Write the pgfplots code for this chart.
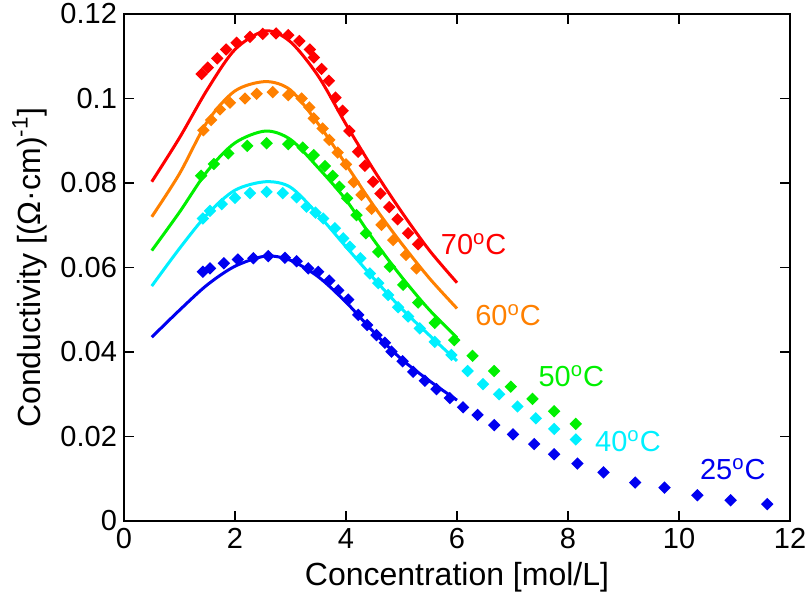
\documentclass[border=0pt]{standalone}
\usepackage{fontspec}
\setmainfont{Liberation Sans}
\usepackage{pgfplots}
\pgfplotsset{compat=1.18}
\definecolor{c70}{RGB}{255,0,0}
\definecolor{c60}{RGB}{255,128,0}
\definecolor{c50}{RGB}{0,240,0}
\definecolor{c40}{RGB}{0,240,255}
\definecolor{c25}{RGB}{0,0,240}
\pgfplotsset{pts/.style={only marks, mark=square*, mark size=1.45pt, mark options={rotate=45}}}
\begin{document}
\begin{tikzpicture}
\begin{axis}[name=ax,
  scale only axis, width=333pt, height=253.5pt,
  xmin=0, xmax=12, ymin=0, ymax=0.12,
  xtick={0,2,4,6,8,10,12},
  ytick={0,0.02,0.04,0.06,0.08,0.1,0.12},
  scaled y ticks=false,
  yticklabel style={/pgf/number format/fixed,/pgf/number format/precision=2},
  /pgf/number format/assume math mode=true,
  tick pos=both, tick align=inside, major tick length=5pt,
  axis line style={line width=0.8pt}, tick style={line width=0.8pt,black},
  ticklabel style={font=\fontsize{14.5}{16}\selectfont},
  label style={font=\fontsize{16}{18}\selectfont},
  xlabel={Concentration [mol/L]},
  ylabel={Conductivity [(Ω·cm)\textsuperscript{-1}]},
  every axis plot/.append style={line width=1.5pt},
  clip=false]
% fitted curves
\addplot[c70, smooth, no marks] coordinates {(0.5,0.0803)(1,0.0907)(1.5,0.1021)(2,0.1116)(2.55,0.1160)(3,0.1134)(3.5,0.1053)(4,0.0939)(4.5,0.0831)(5,0.0732)(5.5,0.0641)(6,0.0564)};
\addplot[c60, smooth, no marks] coordinates {(0.5,0.0720)(1,0.0822)(1.5,0.0945)(2,0.1018)(2.55,0.1040)(3,0.1020)(3.5,0.0940)(4,0.0844)(4.5,0.0746)(5,0.0657)(5.5,0.0575)(6,0.0503)};
\addplot[c50, smooth, no marks] coordinates {(0.5,0.0640)(1,0.0731)(1.5,0.0828)(2,0.0895)(2.55,0.0923)(3,0.0903)(3.5,0.0836)(4,0.0760)(4.5,0.0665)(5,0.0578)(5.5,0.0500)(6,0.0434)};
\addplot[c40, smooth, no marks] coordinates {(0.5,0.0556)(1,0.0645)(1.5,0.0726)(2,0.0783)(2.55,0.0803)(3,0.0790)(3.5,0.0725)(4,0.0649)(4.5,0.0574)(5,0.0503)(5.5,0.0440)(6,0.0379)};
\addplot[c25, smooth, no marks] coordinates {(0.5,0.0435)(1,0.0499)(1.5,0.0559)(2,0.0603)(2.55,0.0627)(3,0.0617)(3.5,0.0578)(4,0.0518)(4.5,0.0447)(5,0.0383)(5.5,0.0332)(6,0.0286)};
% measured points
\addplot[c70, pts] coordinates {(1.40,0.1058)(1.51,0.1073)(1.68,0.1095)(1.84,0.1116)(2.03,0.1132)(2.27,0.1146)(2.50,0.1153)(2.74,0.1154)(2.96,0.1150)(3.16,0.1136)(3.35,0.1116)(3.42,0.1097)(3.56,0.1070)(3.69,0.1042)(3.81,0.1002)(3.94,0.0971)(4.06,0.0923)(4.22,0.0874)(4.34,0.0841)(4.49,0.0803)(4.62,0.0775)(4.78,0.0743)(4.93,0.0714)(5.12,0.0681)(5.30,0.0655)};
\addplot[c60, pts] coordinates {(1.43,0.0925)(1.57,0.0949)(1.73,0.0974)(1.91,0.0990)(2.18,0.1000)(2.39,0.1011)(2.68,0.1015)(2.96,0.1008)(3.20,0.1000)(3.34,0.0979)(3.42,0.0953)(3.58,0.0929)(3.70,0.0902)(3.85,0.0872)(4.00,0.0844)(4.14,0.0802)(4.28,0.0772)(4.46,0.0739)(4.64,0.0701)(4.85,0.0665)(5.08,0.0630)(5.27,0.0598)};
\addplot[c50, pts] coordinates {(1.39,0.0817)(1.62,0.0845)(1.88,0.0870)(2.22,0.0888)(2.57,0.0894)(2.96,0.0892)(3.22,0.0884)(3.42,0.0866)(3.62,0.0840)(3.76,0.0817)(3.88,0.0791)(4.02,0.0764)(4.19,0.0724)(4.36,0.0681)(4.58,0.0637)(4.79,0.0602)(5.03,0.0559)(5.30,0.0517)(5.60,0.0469)(5.95,0.0428)(6.28,0.0391)(6.67,0.0355)(6.97,0.0318)(7.36,0.0289)(7.75,0.0260)(8.14,0.0230)};
\addplot[c40, pts] coordinates {(1.42,0.0716)(1.55,0.0734)(1.76,0.0750)(2.00,0.0765)(2.27,0.0776)(2.57,0.0779)(2.86,0.0776)(3.11,0.0766)(3.29,0.0744)(3.45,0.0730)(3.59,0.0716)(3.80,0.0693)(3.95,0.0669)(4.07,0.0649)(4.26,0.0622)(4.43,0.0586)(4.58,0.0563)(4.76,0.0535)(4.94,0.0506)(5.12,0.0484)(5.33,0.0456)(5.60,0.0424)(5.90,0.0393)(6.19,0.0355)(6.47,0.0324)(6.76,0.0300)(7.09,0.0271)(7.42,0.0243)(7.75,0.0218)(8.14,0.0193)};
\addplot[c25, pts] coordinates {(1.42,0.0590)(1.55,0.0598)(1.80,0.0610)(2.05,0.0619)(2.33,0.0622)(2.60,0.0627)(2.90,0.0623)(3.11,0.0615)(3.32,0.0598)(3.50,0.0590)(3.70,0.0569)(3.86,0.0546)(4.04,0.0524)(4.22,0.0488)(4.38,0.0464)(4.55,0.0440)(4.70,0.0422)(4.82,0.0401)(5.02,0.0378)(5.21,0.0353)(5.42,0.0332)(5.63,0.0312)(5.87,0.0291)(6.11,0.0269)(6.37,0.0251)(6.67,0.0227)(7.01,0.0205)(7.39,0.0182)(7.75,0.0158)(8.17,0.0136)(8.64,0.0115)(9.21,0.0091)(9.74,0.0079)(10.33,0.0061)(10.93,0.0049)(11.59,0.0040)};
% temperature labels
\node[c70, font=\fontsize{14.5}{16}\selectfont] at (axis cs:6.30,0.0655) {70\textsuperscript{o}C};
\node[c60, font=\fontsize{14.5}{16}\selectfont] at (axis cs:6.92,0.0487) {60\textsuperscript{o}C};
\node[c50, font=\fontsize{14.5}{16}\selectfont] at (axis cs:8.06,0.0343) {50\textsuperscript{o}C};
\node[c40, font=\fontsize{14.5}{16}\selectfont] at (axis cs:9.08,0.0189) {40\textsuperscript{o}C};
\node[c25, font=\fontsize{14.5}{16}\selectfont] at (axis cs:10.97,0.0123) {25\textsuperscript{o}C};
\end{axis}
\pgfresetboundingbox
\path[use as bounding box] ([xshift=-62pt,yshift=-45.5pt]ax.south west) rectangle ([xshift=8.5pt,yshift=7pt]ax.north east);
\end{tikzpicture}
\end{document}
